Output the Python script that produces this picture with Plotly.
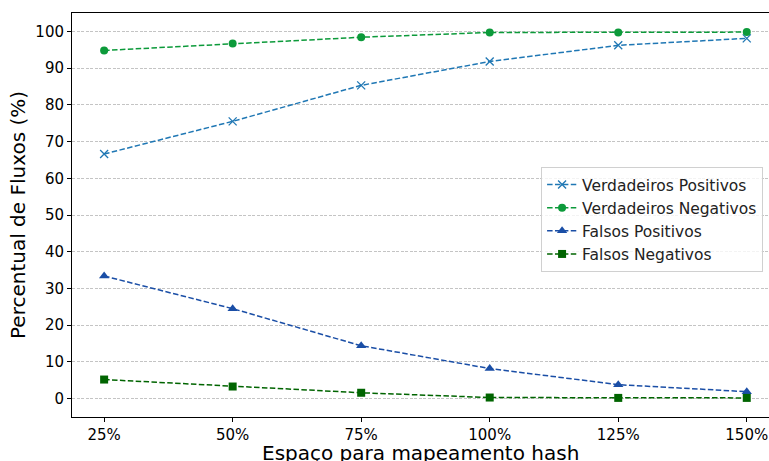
import plotly.graph_objects as go

# Hash-mapping space tested and classification rates (%)
categorias = ["25%", "50%", "75%", "100%", "125%", "150%"]
verdadeiros_positivos = [66.6, 75.5, 85.3, 91.8, 96.2, 98.1]
verdadeiros_negativos = [94.8, 96.7, 98.4, 99.7, 99.7, 99.8]
falsos_positivos = [33.4, 24.5, 14.4, 8.2, 3.8, 1.9]
falsos_negativos = [5.2, 3.3, 1.6, 0.3, 0.2, 0.2]

idx = list(range(len(categorias)))
dash = "5.5px,2.4px"
FONT = "DejaVu Sans"

series = [
    ("Verdadeiros Positivos", verdadeiros_positivos, "#1f77b4", "x-thin", 8),
    ("Verdadeiros Negativos", verdadeiros_negativos, "#0c9a3a", "circle", 8),
    ("Falsos Positivos", falsos_positivos, "#1a4ea6", "triangle-up", 9),
    ("Falsos Negativos", falsos_negativos, "#006400", "square", 8),
]

fig = go.Figure()
for nome, vals, cor, simb, tam in series:
    marker = dict(symbol=simb, size=tam, color=cor)
    if simb == "x-thin":
        marker["line"] = dict(color=cor, width=1.3)
    fig.add_trace(go.Scatter(
        x=idx, y=vals, name=nome, mode="lines+markers",
        line=dict(color=cor, width=1.5, dash=dash),
        marker=marker,
    ))

# Axis titles placed as annotations so the plot area keeps its fixed margins
fig.add_annotation(
    text="Espaço para mapeamento hash", xref="paper", yref="paper",
    x=0.5, y=0, xanchor="center", yanchor="middle", yshift=-36,
    showarrow=False, font=dict(family=FONT, size=20, color="black"),
)
fig.add_annotation(
    text="Percentual de Fluxos (%)", xref="paper", yref="paper",
    x=0, y=0.5, xanchor="center", yanchor="middle", xshift=-54,
    textangle=-90, showarrow=False, font=dict(family=FONT, size=20, color="black"),
)

fig.update_layout(
    width=769, height=461,
    margin=dict(l=72, r=0, t=13, b=44),
    paper_bgcolor="white", plot_bgcolor="white",
    font=dict(family=FONT, size=15, color="black"),
    showlegend=True,
    legend=dict(
        x=0.673, y=0.619, xanchor="left", yanchor="top",
        bgcolor="rgba(255,255,255,0.8)", bordercolor="#d0d0d0", borderwidth=1,
        font=dict(family=FONT, size=15.5, color="#222"),
        tracegroupgap=0,
    ),
    xaxis=dict(
        range=[-0.25, 5.173], tickmode="array", tickvals=idx, ticktext=categorias,
        showgrid=False, zeroline=False, automargin=False,
        showline=True, linecolor="black", linewidth=1, mirror=True,
        ticks="outside", ticklen=4, tickcolor="black",
        tickfont=dict(family=FONT, size=15),
    ),
    yaxis=dict(
        range=[-5, 105], tickmode="array", tickvals=list(range(0, 101, 10)),
        showgrid=True, gridcolor="#c4c4c4", griddash="3px,1.5px", gridwidth=0.8,
        zeroline=False, automargin=False,
        showline=True, linecolor="black", linewidth=1, mirror=False,
        ticks="outside", ticklen=4, tickcolor="black",
        tickfont=dict(family=FONT, size=15),
    ),
)

fig.write_html("out.html")
